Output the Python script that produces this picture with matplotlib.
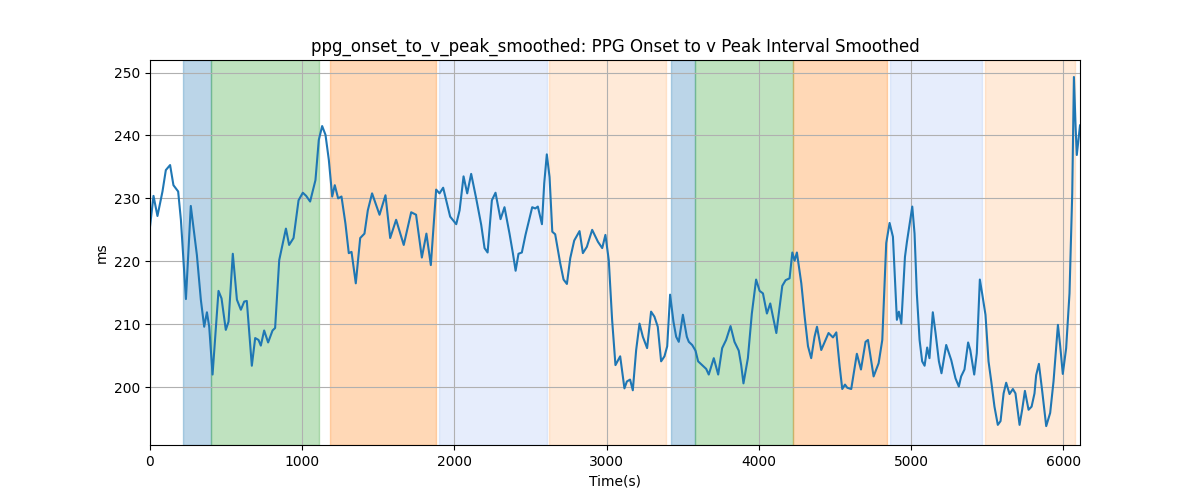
import numpy as np
import matplotlib
matplotlib.use("Agg")
import matplotlib.pyplot as plt

# trace of the smoothed interval (time in s, value in ms)
time_s = [
    0, 23, 49, 82, 104, 132, 154, 185, 203, 236, 268, 308, 334, 356, 374, 389,
    411, 450, 470, 498, 516, 544, 571, 597, 619, 636, 669, 691, 713, 728, 750,
    776, 805, 822, 849, 893, 914, 943, 976, 1004, 1026, 1052, 1087, 1109, 1131,
    1153, 1175, 1197, 1214, 1236, 1258, 1284, 1306, 1324, 1352, 1381, 1409,
    1431, 1459, 1508, 1547, 1578, 1617, 1667, 1716, 1748, 1786, 1816, 1845,
    1880, 1902, 1926, 1972, 2012, 2034, 2060, 2084, 2110, 2143, 2176, 2198,
    2218, 2246, 2270, 2303, 2329, 2362, 2384, 2402, 2421, 2443, 2467, 2511,
    2531, 2548, 2575, 2590, 2607, 2625, 2643, 2662, 2695, 2717, 2739, 2761,
    2787, 2822, 2844, 2870, 2905, 2943, 2971, 2992, 3014, 3036, 3058, 3089,
    3117, 3133, 3154, 3172, 3194, 3216, 3238, 3266, 3292, 3314, 3336, 3358,
    3380, 3398, 3417, 3439, 3457, 3474, 3501, 3527, 3540, 3562, 3584, 3601,
    3636, 3654, 3671, 3704, 3733, 3759, 3785, 3814, 3840, 3868, 3884, 3899,
    3928, 3954, 3982, 4005, 4027, 4053, 4075, 4097, 4115, 4154, 4176, 4202,
    4220, 4235, 4250, 4279, 4301, 4323, 4344, 4366, 4382, 4410, 4458, 4487,
    4509, 4531, 4548, 4566, 4581, 4607, 4644, 4671, 4701, 4717, 4754, 4787,
    4811, 4837, 4859, 4881, 4907, 4920, 4936, 4960, 4973, 5008, 5023, 5038,
    5056, 5073, 5089, 5106, 5121, 5143, 5161, 5183, 5200, 5231, 5264, 5292,
    5314, 5329, 5351, 5375, 5389, 5415, 5432, 5452, 5467, 5489, 5509, 5527,
    5548, 5570, 5588, 5608, 5625, 5647, 5669, 5686, 5713, 5730, 5748, 5772,
    5792, 5811, 5822, 5840, 5862, 5888, 5914, 5936, 5965, 5980, 5997, 6019,
    6041, 6059, 6070, 6081, 6089, 6110,
]
interval_ms = [
    225.5, 230.4, 227.2, 231.1, 234.5, 235.3, 232.1, 231.1, 226.6, 214.0, 228.8,
    221.0, 213.9, 209.6, 211.9, 209.6, 202.0, 215.3, 214.1, 209.1, 210.4, 221.2,
    213.9, 212.3, 213.6, 213.7, 203.4, 207.8, 207.5, 206.6, 209.0, 207.1, 209.0,
    209.4, 220.2, 225.2, 222.6, 223.7, 229.7, 230.9, 230.4, 229.5, 232.9, 239.3,
    241.5, 240.1, 236.1, 230.3, 232.1, 230.0, 230.3, 226.0, 221.3, 221.5, 216.5,
    223.7, 224.4, 228.1, 230.8, 227.4, 230.5, 223.7, 226.6, 222.6, 227.8, 227.4,
    220.6, 224.4, 219.4, 231.4, 230.8, 231.7, 227.1, 225.9, 228.1, 233.5, 230.8,
    233.9, 230.0, 225.8, 222.1, 221.4, 229.7, 230.9, 226.7, 228.6, 224.4, 221.3,
    218.5, 221.2, 221.4, 224.2, 228.6, 228.4, 228.7, 225.9, 232.4, 237.0, 233.4,
    224.7, 224.3, 219.7, 217.1, 216.4, 220.5, 223.3, 224.8, 221.3, 222.3, 225.0,
    223.1, 222.1, 224.2, 220.2, 210.7, 203.5, 204.9, 199.8, 200.9, 201.2, 199.5,
    205.9, 210.1, 208.0, 206.2, 212.0, 211.2, 209.6, 204.1, 204.9, 206.5, 214.7,
    210.4, 208.0, 207.2, 211.5, 208.0, 207.2, 206.7, 205.8, 204.1, 203.3, 202.9,
    202.0, 204.6, 202.0, 206.2, 207.5, 209.7, 207.2, 205.8, 203.5, 200.6, 204.6,
    211.7, 217.1, 215.3, 214.9, 211.7, 213.3, 210.7, 208.6, 216.1, 217.0, 217.3,
    221.4, 220.1, 221.4, 216.5, 211.2, 206.5, 204.6, 208.0, 209.6, 205.9, 208.6,
    207.9, 208.7, 203.3, 199.7, 200.4, 199.9, 199.7, 205.3, 202.8, 207.2, 207.5,
    201.7, 203.8, 207.5, 222.9, 226.1, 223.9, 210.7, 212.0, 210.1, 220.7, 223.1,
    228.7, 224.4, 214.9, 207.5, 204.1, 203.4, 206.3, 204.6, 211.9, 208.6, 204.1,
    202.2, 206.7, 204.3, 201.4, 200.1, 201.7, 202.8, 207.1, 205.9, 202.0, 205.4,
    217.1, 214.9, 211.5, 204.1, 200.9, 196.9, 194.0, 194.6, 199.0, 200.7, 198.9,
    199.7, 199.0, 194.0, 196.4, 199.4, 196.4, 196.9, 199.0, 201.9, 203.7, 199.3,
    193.8, 195.9, 200.9, 209.9, 206.5, 202.1, 206.2, 214.9, 230.8, 249.3, 241.4,
    236.9, 241.6,
]

# shaded phases (start, end, colour, alpha)
span_start = [217, 400, 1182, 1898, 2620, 3421, 3579, 4222, 4859, 5483]
span_end = [400, 1110, 1878, 2607, 3388, 3579, 4222, 4839, 5463, 6074]
span_color = ['tab:blue', 'tab:green', 'tab:orange', 'cornflowerblue', 'tab:orange',
              'tab:blue', 'tab:green', 'tab:orange', 'cornflowerblue', 'tab:orange']
span_alpha = [0.3, 0.3, 0.3, 0.16, 0.16, 0.3, 0.3, 0.3, 0.16, 0.16]

fig, ax = plt.subplots(figsize=(12, 5))

for s, e, c, a in zip(span_start, span_end, span_color, span_alpha):
    ax.axvspan(s, e, color=c, alpha=a)

ax.plot(time_s, interval_ms, color='tab:blue', linewidth=1.5)

ax.set_xlim(0, 6110)
ax.set_ylim(190.8, 252.0)
ax.grid(True)
ax.set_title('ppg_onset_to_v_peak_smoothed: PPG Onset to v Peak Interval Smoothed')
ax.set_xlabel('Time(s)')
ax.set_ylabel('ms')

fig.savefig('out.png', dpi=100)
